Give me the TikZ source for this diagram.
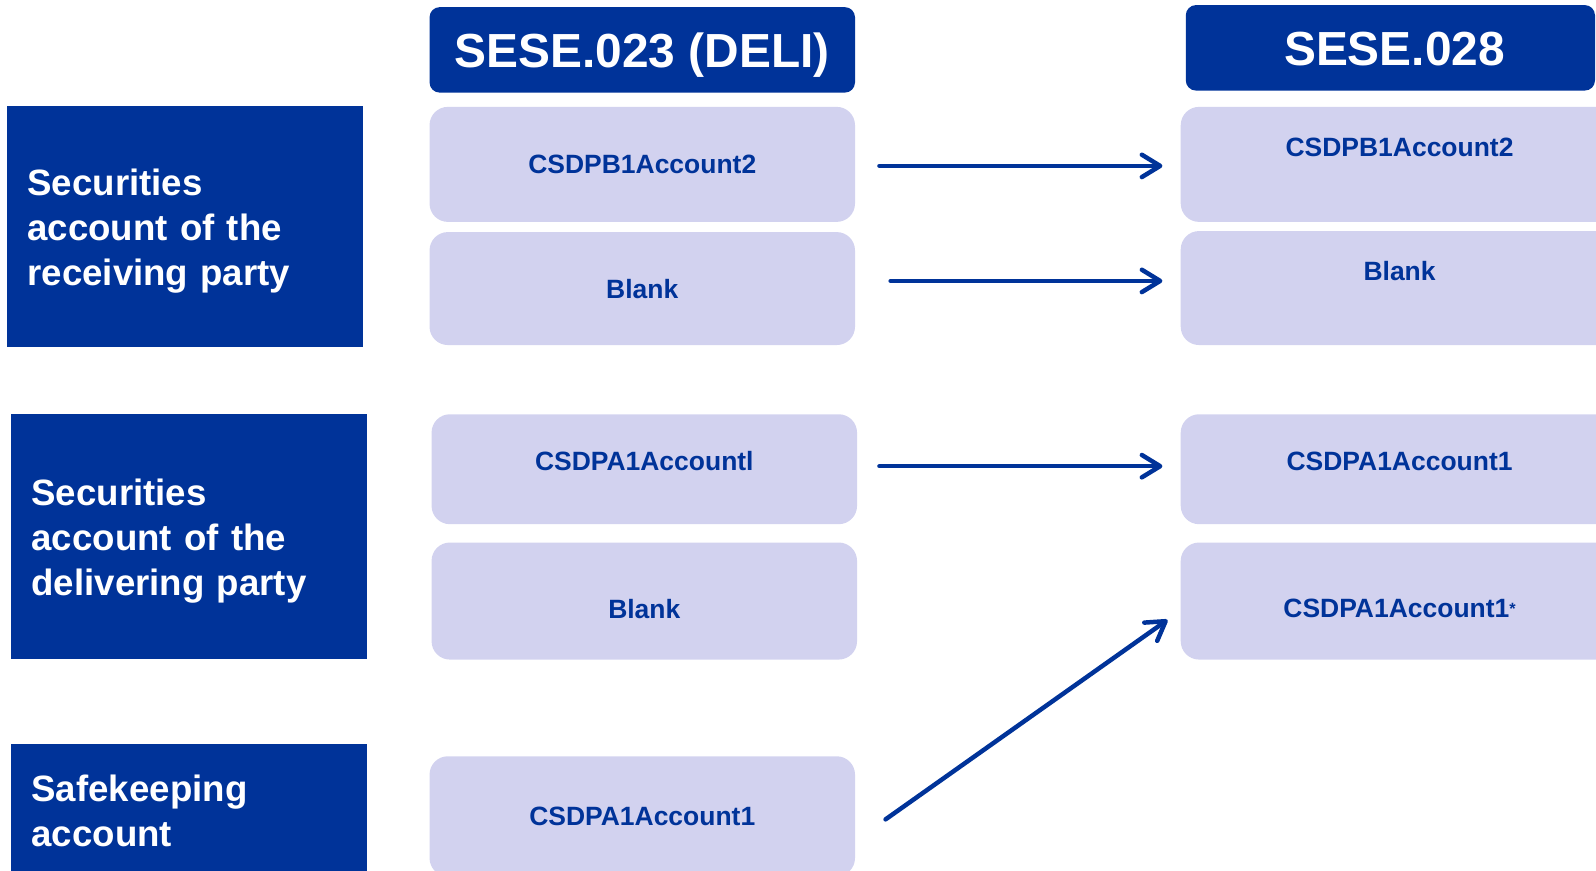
\documentclass[tikz,border=0pt]{standalone}
\usepackage{fontspec}
\setmainfont{Liberation Sans}
\usetikzlibrary{arrows.meta}
\definecolor{dkblue}{RGB}{0,51,153}
\definecolor{ltblue}{RGB}{210,210,239}
\begin{document}
\begin{tikzpicture}[x=0.5pt,y=-0.5pt,
  sidebox/.style={fill=dkblue,text=white,font=\bfseries\fontsize{18}{22}\selectfont,
    align=left,text width=155pt,inner xsep=10pt,inner ysep=0pt,minimum width=175pt},
  headbox/.style={fill=dkblue,text=white,rounded corners=5pt,inner sep=0pt,
    font=\bfseries\fontsize{23.5}{28}\selectfont,minimum height=42pt,
    text height=17.8pt,text depth=0pt},
  cellbox/.style={fill=ltblue,text=dkblue,rounded corners=9pt,inner sep=0pt,
    font=\bfseries\fontsize{13}{15}\selectfont,text height=9.3pt,text depth=0pt},
  flow/.style={draw=dkblue,line width=2.2pt,line cap=round,
    -{Straight Barb[length=9pt,width=11pt,line cap=round,line join=round]}}]
\useasboundingbox (0,0) rectangle (1568,855);
\clip (0,0) rectangle (1568,855);
% left labels
\node[sidebox,minimum height=118.5pt] (L1) at (182,222.5) {\rule{0pt}{17.5pt}Securities\\account of the\\receiving party};
\node[sidebox,minimum height=120pt] (L2) at (186,527) {\rule{0pt}{17.5pt}Securities\\account of the\\delivering party};
\node[sidebox,minimum height=66pt] (L3) at (186,797) {Safekeeping\\account};
% headers
\node[headbox,minimum width=209pt] (H1) at (631,49) {SESE.023 (DELI)};
\node[headbox,minimum width=201pt] (H2) at (1366,47) {\kern4pt SESE.028};
% middle column
\node[cellbox,minimum width=209pt,minimum height=56.5pt] (M1) at (631,161.5) {CSDPB1Account2};
\node[cellbox,minimum width=209pt,minimum height=55.5pt] (M2) at (631,283.5) {Blank};
\node[cellbox,minimum width=209pt,minimum height=54pt,text depth=8pt] (M3) at (633,461) {CSDPA1Accountl};
\node[cellbox,minimum width=209pt,minimum height=57.5pt,text height=16.8pt] (M4) at (633,590.5) {Blank};
\node[cellbox,minimum width=209pt,minimum height=59pt] (M5) at (631,802) {CSDPA1Account1};
% right column
\node[cellbox,minimum width=215pt,minimum height=56.5pt,text depth=17.5pt] (R1) at (1375,161.5) {CSDPB1Account2};
\node[cellbox,minimum width=215pt,minimum height=56pt,text depth=17pt] (R2) at (1375,283) {Blank};
\node[cellbox,minimum width=215pt,minimum height=54pt,text depth=8pt] (R3) at (1375,461) {CSDPA1Account1};
\node[cellbox,minimum width=215pt,minimum height=57.5pt,text height=15.8pt] (R4) at (1375,590.5) {CSDPA1Account1\raisebox{1.5pt}{\fontsize{8}{8}\selectfont*}};
% arrow end points
\coordinate (a1s) at (864,163); \coordinate (a1e) at (1142,163);
\coordinate (a2s) at (875,276); \coordinate (a2e) at (1142,276);
\coordinate (a3s) at (864,458); \coordinate (a3e) at (1142,458);
\coordinate (a4s) at (870,805); \coordinate (a4e) at (1147,609);
\draw[flow] (a1s) -- (a1e);
\draw[flow] (a2s) -- (a2e);
\draw[flow] (a3s) -- (a3e);
\draw[flow] (a4s) -- (a4e);
\end{tikzpicture}
\end{document}
